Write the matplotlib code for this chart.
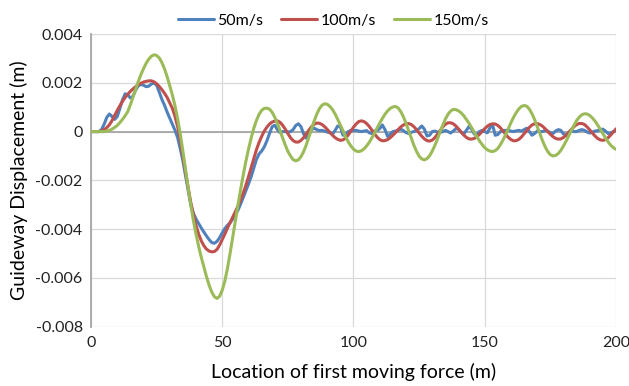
import matplotlib
matplotlib.use('Agg')
import matplotlib.pyplot as plt
import numpy as np

# location of first moving force (m), one sample per metre
location = np.arange(0, 201, 1)

# guideway displacement in mm, converted to m below
disp_50_mm = [
    0, 0, 0, 0, 0.08, 0.3, 0.58, 0.72, 0.62, 0.5,
    0.62, 0.95, 1.3, 1.55, 1.5, 1.38, 1.45, 1.7, 1.88, 1.93,
    1.9, 1.84, 1.86, 1.95, 1.99, 1.9, 1.62, 1.32, 1.08, 0.8,
    0.55, 0.3, 0.05, -0.25, -0.7, -1.2, -1.8, -2.4, -3.0, -3.35,
    -3.58, -3.77, -3.95, -4.12, -4.28, -4.43, -4.55, -4.58, -4.5, -4.35,
    -4.15, -3.97, -3.84, -3.74, -3.58, -3.4, -3.22, -2.97, -2.7, -2.42,
    -2.15, -1.85, -1.5, -1.15, -0.92, -0.8, -0.63, -0.38, -0.08, 0.2,
    0.26, 0.08, -0.04, 0.0, 0.0, -0.02, 0.0, 0.08, 0.25, 0.32,
    0.2, -0.1, -0.27, -0.12, 0.08, 0.14, 0.08, 0.04, 0.05, 0.02,
    -0.02, -0.05, -0.1, 0.05, 0.23, 0.2, -0.15, -0.12, 0.0, 0.05,
    0.04, 0.05, 0.02, 0.0, 0.02, 0.04, -0.05, -0.08, 0.02, 0.05,
    0.12, 0.27, 0.08, -0.2, -0.1, 0.0, 0.02, 0.06, 0.1, 0.04,
    -0.04, -0.08, -0.03, 0.0, 0.04, 0.12, 0.23, 0.1, -0.18, -0.15,
    0.0, 0.02, -0.02, -0.04, 0.0, 0.05, 0.0, -0.06, 0.02, 0.12,
    0.1, -0.02, -0.1, 0.05, 0.21, 0.1, -0.1, -0.12, 0.0, 0.05,
    0.0, -0.05, 0.15, 0.27, -0.15, -0.12, 0.0, 0.04, 0.05, 0.05,
    0.02, 0.0, 0.03, 0.05, 0.02, 0.08, 0.14, 0.0, -0.15, -0.08,
    0.02, 0.0, 0.0, 0.05, 0.02, -0.05, -0.08, 0.02, 0.08, 0.05,
    -0.1, -0.15, -0.05, 0.02, 0.0, 0.0, 0.05, 0.08, 0.05, -0.02,
    -0.06, -0.02, 0.02, 0.04, 0.08, 0.1, 0.02, -0.08, -0.06, 0.0,
    0.05,
]

disp_100_mm = [
    0, 0, 0, 0, 0.03, 0.08, 0.16, 0.28, 0.45, 0.66,
    0.87, 1.06, 1.24, 1.4, 1.53, 1.65, 1.75, 1.84, 1.92, 1.98,
    2.03, 2.06, 2.08, 2.08, 2.04, 1.96, 1.85, 1.72, 1.57, 1.4,
    1.18, 0.95, 0.62, 0.2, -0.35, -1.0, -1.65, -2.3, -2.9, -3.4,
    -3.85, -4.2, -4.48, -4.68, -4.82, -4.9, -4.93, -4.92, -4.83, -4.65,
    -4.43, -4.2, -3.95, -3.73, -3.5, -3.28, -3.05, -2.8, -2.52, -2.2,
    -1.85, -1.48, -1.1, -0.75, -0.45, -0.2, 0.02, 0.18, 0.31, 0.39,
    0.43, 0.44, 0.38, 0.26, 0.10, -0.08, -0.25, -0.37, -0.43, -0.43,
    -0.36, -0.25, -0.10, 0.06, 0.20, 0.30, 0.35, 0.34, 0.29, 0.20,
    0.09, -0.03, -0.15, -0.25, -0.32, -0.36, -0.34, -0.27, -0.14, 0.02,
    0.18, 0.31, 0.41, 0.44, 0.41, 0.33, 0.21, 0.06, -0.09, -0.23,
    -0.33, -0.38, -0.37, -0.33, -0.25, -0.15, -0.04, 0.08, 0.19, 0.27,
    0.32, 0.33, 0.29, 0.20, 0.08, -0.06, -0.19, -0.30, -0.37, -0.39,
    -0.35, -0.25, -0.11, 0.04, 0.19, 0.30, 0.36, 0.36, 0.32, 0.23,
    0.11, -0.02, -0.14, -0.24, -0.30, -0.31, -0.28, -0.21, -0.11, 0.0,
    0.12, 0.22, 0.29, 0.32, 0.31, 0.25, 0.15, 0.02, -0.12, -0.24,
    -0.33, -0.38, -0.37, -0.32, -0.22, -0.09, 0.04, 0.17, 0.27, 0.32,
    0.33, 0.29, 0.22, 0.12, 0.0, -0.11, -0.21, -0.28, -0.31, -0.30,
    -0.24, -0.15, -0.03, 0.09, 0.20, 0.29, 0.33, 0.33, 0.29, 0.19,
    0.07, -0.06, -0.18, -0.28, -0.34, -0.36, -0.33, -0.25, -0.14, -0.02,
    0.11,
]

disp_150_mm = [
    0, 0, 0, 0, 0, 0, 0.02, 0.05, 0.1, 0.17,
    0.25, 0.37, 0.5, 0.65, 0.82, 1.1, 1.42, 1.75, 2.05, 2.33,
    2.58, 2.8, 2.97, 3.09, 3.15, 3.12, 3.02, 2.83, 2.57, 2.25,
    1.87, 1.5, 1.05, 0.52, -0.1, -0.8, -1.55, -2.3, -3.0, -3.65,
    -4.2, -4.7, -5.15, -5.55, -5.95, -6.3, -6.58, -6.77, -6.84, -6.75,
    -6.5, -6.12, -5.6, -4.98, -4.32, -3.65, -3.0, -2.37, -1.78, -1.22,
    -0.72, -0.27, 0.13, 0.45, 0.7, 0.87, 0.95, 0.96, 0.92, 0.79,
    0.59, 0.34, 0.05, -0.26, -0.55, -0.81, -1.0, -1.15, -1.2, -1.16,
    -1.03, -0.82, -0.55, -0.23, 0.10, 0.43, 0.71, 0.94, 1.08, 1.14,
    1.12, 1.03, 0.90, 0.72, 0.50, 0.27, 0.03, -0.21, -0.42, -0.59,
    -0.72, -0.80, -0.82, -0.79, -0.71, -0.59, -0.44, -0.26, -0.06, 0.15,
    0.35, 0.54, 0.71, 0.85, 0.95, 1.01, 1.03, 0.97, 0.82, 0.61,
    0.34, 0.04, -0.27, -0.56, -0.81, -1.01, -1.12, -1.16, -1.11, -0.99,
    -0.80, -0.57, -0.30, -0.01, 0.26, 0.51, 0.71, 0.84, 0.91, 0.90,
    0.85, 0.77, 0.65, 0.50, 0.34, 0.16, -0.03, -0.21, -0.38, -0.53,
    -0.66, -0.75, -0.80, -0.82, -0.78, -0.69, -0.53, -0.34, -0.12, 0.13,
    0.37, 0.59, 0.78, 0.93, 1.03, 1.07, 1.04, 0.92, 0.73, 0.49,
    0.21, -0.08, -0.37, -0.62, -0.82, -0.95, -1.0, -0.98, -0.90, -0.77,
    -0.59, -0.39, -0.17, 0.05, 0.26, 0.45, 0.59, 0.69, 0.73, 0.72,
    0.66, 0.56, 0.43, 0.27, 0.10, -0.08, -0.26, -0.42, -0.56, -0.66,
    -0.73,
]

series_labels = ['50m/s', '100m/s', '150m/s']
x_ticks = [0, 50, 100, 150, 200]
y_ticks = [-0.008, -0.006, -0.004, -0.002, 0, 0.002, 0.004]
y_tick_labels = ['-0.008', '-0.006', '-0.004', '-0.002', '0', '0.002', '0.004']

plt.rcParams['font.family'] = ['Lato', 'DejaVu Sans']

fig = plt.figure(figsize=(6.29, 3.86), dpi=100)
ax = fig.add_axes([0.1447, 0.1536, 0.8346, 0.7583])

colors = ['#4F81BD', '#C0504D', '#9BBB59']
for vals, lab, col in zip([disp_50_mm, disp_100_mm, disp_150_mm], series_labels, colors):
    ax.plot(location, np.array(vals) * 1e-3, color=col, linewidth=2.2, label=lab,
            solid_capstyle='round', zorder=3)

ax.set_xlim(0, 200)
ax.set_ylim(-0.008, 0.004)
ax.set_xticks(x_ticks)
ax.set_xticklabels([str(t) for t in x_ticks])
ax.set_yticks(y_ticks)
ax.set_yticklabels(y_tick_labels)
ax.tick_params(length=0, labelsize=11.5, colors='#222222')
ax.tick_params(axis='x', pad=7)
ax.tick_params(axis='y', pad=6)

# excel style gridlines
ax.grid(True, color='#D9D9D9', linewidth=0.9, zorder=0)
for s in ['top', 'right', 'bottom']:
    ax.spines[s].set_visible(False)
ax.spines['left'].set_color('#A6A6A6')
ax.spines['left'].set_linewidth(1.3)
ax.axhline(0, color='#A6A6A6', linewidth=1.3, zorder=2)

ax.set_xlabel('Location of first moving force (m)', fontsize=14, labelpad=9)
ax.set_ylabel('Guideway Displacement (m)', fontsize=14, labelpad=5)

fig.legend(loc='center', bbox_to_anchor=(0.53, 0.946), ncol=3, frameon=False,
           fontsize=11.5, handlelength=2.25, handletextpad=0.25, columnspacing=1.1)

plt.savefig('out.png', dpi=100, facecolor='white')
plt.close()
